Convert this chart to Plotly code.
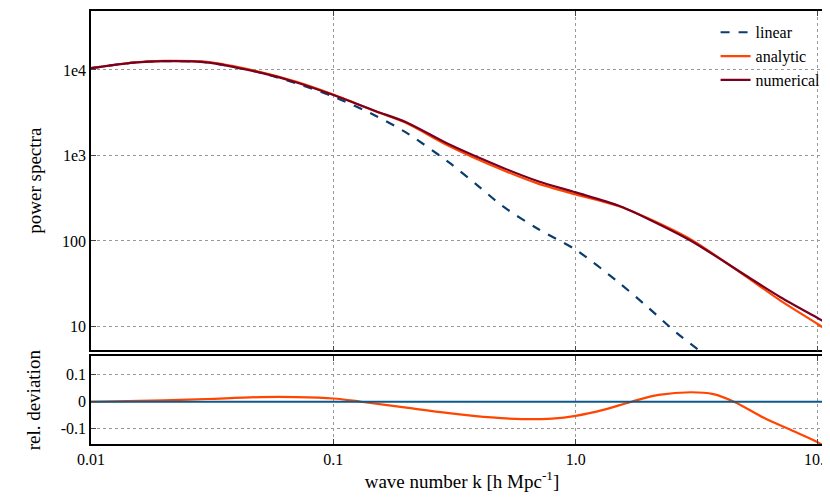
import numpy as np
import plotly.graph_objects as go
from plotly.subplots import make_subplots

k_num = [0.01, 0.015, 0.02, 0.03, 0.05, 0.07, 0.1, 0.15, 0.2, 0.3, 0.5, 0.7, 1.0, 1.5, 2.0, 3.0, 5.0, 7.0, 10.0, 11.5]
p_num = [10500, 12200, 12700, 12300, 9300, 7200, 5100, 3300, 2450, 1350, 720, 500, 370, 260, 180, 100, 40, 22, 12.5, 10]
k_lin = [0.01, 0.015, 0.02, 0.03, 0.05, 0.07, 0.1, 0.15, 0.2, 0.3, 0.4, 0.5, 0.7, 1.0, 1.5, 2.0, 2.6, 3.25]
p_lin = [10500, 12200, 12700, 12300, 9300, 7000, 4900, 2900, 1850, 830, 430, 255, 138, 79, 33, 16.5, 8.5, 5.2]
k_dev = [0.01, 0.02, 0.03, 0.05, 0.07, 0.1, 0.13, 0.2, 0.3, 0.45, 0.6, 0.8, 1.0, 1.3, 1.7, 2.2, 3.0, 3.7, 4.5, 6.0, 8.0, 10.0, 11.5]
dev = [0.0, 0.005, 0.01, 0.017, 0.017, 0.012, 0.0, -0.022, -0.042, -0.058, -0.064, -0.062, -0.052, -0.03, 0.0, 0.025, 0.035, 0.028, 0.0, -0.06, -0.11, -0.15, -0.185]

p_ana = list(np.array(p_num) * (1 + np.interp(np.log(k_num), np.log(k_dev), dev)))

fig = make_subplots(rows=2, cols=1, shared_xaxes=True, row_heights=[0.795, 0.205], vertical_spacing=0.014)
fig.add_trace(go.Scatter(x=k_lin, y=p_lin, mode="lines", name="linear", line=dict(color="#0b3d6e", width=2.2, dash="dash", shape="spline", smoothing=0.8)), 1, 1)
fig.add_trace(go.Scatter(x=k_num, y=p_ana, mode="lines", name="analytic", line=dict(color="#ff4500", width=2.2, shape="spline", smoothing=0.8)), 1, 1)
fig.add_trace(go.Scatter(x=k_num, y=p_num, mode="lines", name="numerical", line=dict(color="#7a0020", width=2.2, shape="spline", smoothing=0.8)), 1, 1)
fig.add_trace(go.Scatter(x=k_dev, y=dev, mode="lines", showlegend=False, line=dict(color="#ff4500", width=2.2, shape="spline")), 2, 1)
fig.add_trace(go.Scatter(x=[0.01, 11.5], y=[0, 0], mode="lines", showlegend=False, line=dict(color="#0b5a8a", width=2.2)), 2, 1)

ax = dict(showline=True, linecolor="black", linewidth=1.5, mirror="ticks", ticks="inside", ticklen=5,
          showgrid=True, gridcolor="#999", griddash="dot", gridwidth=1, zeroline=False, automargin=False)
fig.update_xaxes(type="log", range=[-2, 1.062], tickvals=[0.01, 0.1, 1, 10], ticktext=["0.01", "0.1", "1.0", "10.0"], **ax)
fig.update_xaxes(showticklabels=False, row=1, col=1)
fig.update_xaxes(title_text="wave number k [h Mpc<sup>-1</sup>]", title_standoff=8, row=2, col=1)
fig.update_yaxes(type="log", range=[0.72, 4.69], tickvals=[10, 100, 1000, 10000], ticktext=["10", "100", "1e3", "1e4"],
                 title_text="power spectra", row=1, col=1, **ax)
fig.update_yaxes(range=[-0.156, 0.167], tickvals=[-0.1, 0, 0.1], ticktext=["-0.1", "0", "0.1"],
                 title_text="rel. deviation", row=2, col=1, **ax)
fig.update_layout(width=830, height=503, margin=dict(l=83, r=5, t=3, b=67),
                  plot_bgcolor="white", paper_bgcolor="white",
                  font=dict(family="Liberation Serif", size=16, color="black"),
                  legend=dict(x=0.99, y=0.99, xanchor="right", yanchor="top", bgcolor="rgba(0,0,0,0)"))
fig.write_html("out.html")
